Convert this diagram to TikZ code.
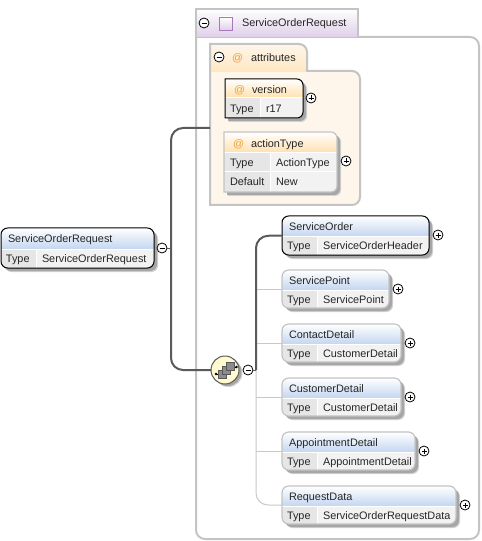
\documentclass[tikz,border=0pt]{standalone}
\usepackage{fontspec}
\setmainfont{Liberation Sans}
\usetikzlibrary{fit,calc}
\definecolor{framegray}{HTML}{C4C4C4}
\definecolor{linedark}{HTML}{5A5A5A}
\definecolor{linelight}{HTML}{C8C8C8}
\definecolor{shadowgray}{HTML}{A6A6A6}
\definecolor{shadowlight}{HTML}{D2D2D2}
\definecolor{titleblue}{HTML}{C4D6F0}
\definecolor{titleorange}{HTML}{FFE0AE}
\definecolor{cellleft}{HTML}{E6E6E6}
\definecolor{cellright}{HTML}{F2F2F2}
\definecolor{attrfill}{HTML}{FEF6EB}
\definecolor{attrtab}{HTML}{FFE7C2}
\definecolor{lilac}{HTML}{DFCFE8}
\definecolor{lilacline}{HTML}{A878B8}
\definecolor{atorange}{HTML}{F0A030}
\definecolor{seqfill}{HTML}{FFFBCF}
\tikzset{
  x=0.75pt,y=-0.75pt,
  anchorbox/.style={inner sep=0pt,outer sep=0pt},
  label/.style={inner sep=0pt,outer sep=0pt,anchor=west,text height=6pt,text depth=0pt,font=\fontsize{8.15pt}{10pt}\selectfont,text=black!85},
  atsign/.style={label,text=atorange},
  frameline/.style={draw=framegray,line width=1.5pt},
  activeline/.style={draw=black,line width=0.75pt},
  optline/.style={draw=framegray,line width=0.9pt},
  togglenode/.style={circle,draw=black,fill=white,line width=0.6pt,minimum size=7.5pt,inner sep=0pt,outer sep=0pt},
  togglemark/.style={draw=black,line width=0.5pt},
  thickconn/.style={draw=linedark,line width=1.5pt,rounded corners=9pt},
  thinconn/.style={draw=linelight,line width=0.75pt,rounded corners=9pt},
  stubconn/.style={draw=linedark,line width=0.75pt},
}
% toggles
\newcommand{\minustog}[3]{%
  \node[togglenode] (#1) at (#2,#3) {};
  \draw[togglemark] ($(#1.center)+(-2.5,0)$) -- ($(#1.center)+(2.5,0)$);}
\newcommand{\plustog}[3]{%
  \minustog{#1}{#2}{#3}
  \draw[togglemark] ($(#1.center)+(0,-2.5)$) -- ($(#1.center)+(0,2.5)$);}
\def\boxstyle{optline}
% element: all corners rounded
% name x1 y1 x2 y2 ysplit xsplit title value
\newcommand{\elembox}[9]{%
  \fill[shadowlight,rounded corners=5pt] (#2+4,#3+4) rectangle (#4+4,#5+4);
  \fill[shadowgray,rounded corners=5pt] (#2+3,#3+3) rectangle (#4+3,#5+3);
  \begin{scope}
    \clip[rounded corners=5pt] (#2,#3) rectangle (#4,#5);
    \shade[top color=white,bottom color=titleblue] (#2,#3) rectangle (#4,#6);
    \fill[cellleft] (#2,#6) rectangle (#7,#5);
    \fill[cellright] (#7,#6) rectangle (#4,#5);
    \draw[white,line width=0.75pt] (#7,#6) -- (#7,#5) (#2,#6) -- (#4,#6);
  \end{scope}
  \path (#2,#3) coordinate (#1-nw) (#4,#5) coordinate (#1-se);
  \node[anchorbox,fit=(#1-nw)(#1-se)] (#1) {};
  \draw[\boxstyle,rounded corners=5pt] (#2,#3) rectangle (#4,#5);
  \node[label] (#1-title) at (#2+7,{(#3+#6)/2}) {#8};
  \node[label] (#1-typekey) at (#2+5,{(#6+#5)/2+0.4}) {Type};
  \node[label] (#1-typeval) at (#7+6,{(#6+#5)/2+0.4}) {#9};
}
% attribute box: square left corners; x1 y1 x2 y2 ysplit xsplit title
\newcommand{\attrshape}[4]{(#1,#2) -- (#3-6,#2) to[out=0,in=90] (#3,#2+6) -- (#3,#4-6) to[out=270,in=0] (#3-6,#4) -- (#1,#4) -- cycle}
\newcommand{\attrbox}[8]{%
  \fill[shadowlight] \attrshape{#2+4}{#3+4}{#4+4}{#5+4};
  \fill[shadowgray] \attrshape{#2+3}{#3+3}{#4+3}{#5+3};
  \begin{scope}
    \clip \attrshape{#2}{#3}{#4}{#5};
    \shade[top color=white,bottom color=titleorange] (#2,#3) rectangle (#4,#6);
    \fill[cellleft] (#2,#6) rectangle (#7,#5);
    \fill[cellright] (#7,#6) rectangle (#4,#5);
    \draw[white,line width=0.75pt] (#7,#6) -- (#7,#5) (#2,#6) -- (#4,#6);
  \end{scope}
  \path (#2,#3) coordinate (#1-nw) (#4,#5) coordinate (#1-se);
  \node[anchorbox,fit=(#1-nw)(#1-se)] (#1) {};
  \draw[\boxstyle] \attrshape{#2}{#3}{#4}{#5};
  \node[atsign] (#1-at) at (#2+9,{(#3+#6)/2+0.6}) {@};
  \node[label] (#1-title) at (#2+27,{(#3+#6)/2+0.6}) {#8};
}
\begin{document}
\begin{tikzpicture}
\useasboundingbox (0,0) rectangle (481,541);
\fill[white] (0,0) rectangle (481,541);
% outer complex type frame
\draw[frameline] (196,37) -- (470,37) to[out=0,in=90] (479,46) -- (479,530) to[out=270,in=0] (470,539) -- (205,539) to[out=180,in=270] (196,530) -- cycle;
\shade[top color=white,bottom color=lilac] (196,9) rectangle (358,37);
\draw[frameline] (196,37) -- (196,9) -- (358,9) -- (358,37);
\minustog{tabtog}{204}{23}
\shade[top color=white,bottom color=lilac,draw=lilacline,line width=0.6pt] (219,17) rectangle (232,30);
\node[label] (tabtitle) at (242,23) {ServiceOrderRequest};
% attributes group
\draw[frameline,fill=attrfill] (210,71) -- (352,71) to[out=0,in=90] (360,79) -- (360,197) to[out=270,in=0] (352,205) -- (210,205) -- cycle;
\shade[top color=attrfill,bottom color=attrtab] (210,44) -- (299,44) to[out=0,in=90] (307,52) -- (307,71) -- (210,71) -- cycle;
\draw[frameline] (210,71) -- (210,44) -- (299,44) to[out=0,in=90] (307,52) -- (307,71);
\fill[attrtab] (211,69.5) rectangle (306,72);
\minustog{attrtog}{219}{57}
\node[atsign] (attrat) at (232,58) {@};
\node[label] (attrtitle) at (251,58) {attributes};
% attributes
\def\boxstyle{activeline}
\attrbox{version}{225}{79}{303}{118}{98}{260}{version}
\node[label] (version-typekey) at (230,109) {Type};
\node[label] (version-typeval) at (266,109) {r17};
\plustog{versiontog}{311}{98}
\def\boxstyle{optline}
\attrbox{action}{224}{132}{337}{192}{153}{270}{actionType}
\draw[white,line width=0.75pt] (225,172) -- (336,172);
\node[label] (action-typekey) at (230,163) {Type};
\node[label] (action-typeval) at (276,163) {ActionType};
\node[label] (action-defkey) at (230,182) {Default};
\node[label] (action-defval) at (276,182) {New};
\plustog{actiontog}{346}{161}
% root element
\def\boxstyle{activeline}
\elembox{root}{1}{228}{154}{268}{249}{36}{ServiceOrderRequest}{ServiceOrderRequest}
\minustog{roottog}{162}{248}
% sequence compositor
\coordinate (attrjoin) at (210,128);
\coordinate (trunktop) at (171,128);
\coordinate (trunkbot) at (171,370);
\coordinate (trunkroot) at (171,248);
\fill[shadowlight] (228.5,373) circle[radius=14];
\fill[shadowgray] (227.5,372) circle[radius=14];
\node[circle,draw=linedark,fill=seqfill,line width=0.75pt,minimum size=21pt,inner sep=0pt,outer sep=0pt] (seq) at (225,370) {};
\draw[thickconn] (attrjoin) -- (trunktop) -- (trunkbot) -- (seq.west);
\draw[stubconn] (roottog.east) -- (trunkroot);
% sequence icon
\draw[black,line width=0.7pt] (216,374) -- (220,374) (233,367) -- (237,367);
\fill[black] (216,374) circle[radius=1.3] (236.5,367) circle[radius=1.3];
\foreach \cx/\cy in {222.5/374.5,226.5/370.5,230.5/366.5}{
  \fill[black!45,draw=black!65,line width=0.4pt] (\cx-4,\cy-4) rectangle (\cx+4,\cy+4);
}
\minustog{seqtog}{248}{370}
\coordinate (seqjoin) at (256,370);
\coordinate (trunkup) at (256,236);
\coordinate (trunkdown) at (256,505);
% elements
\def\boxstyle{optline}
\elembox{point}{282}{270}{389}{308}{290}{317}{ServicePoint}{ServicePoint}
\elembox{contact}{282}{324}{401}{362}{344}{317}{ContactDetail}{CustomerDetail}
\elembox{customer}{282}{378}{401}{416}{398}{317}{CustomerDetail}{CustomerDetail}
\elembox{appoint}{282}{432}{415}{470}{452}{317}{AppointmentDetail}{AppointmentDetail}
\elembox{request}{282}{486}{456}{524}{506}{317}{RequestData}{ServiceOrderRequestData}
\def\boxstyle{activeline}
\elembox{order}{282}{216}{429}{255}{236}{317}{ServiceOrder}{ServiceOrderHeader}
% connectors
\draw[thinconn] (seqjoin) -- (trunkdown) -- (request.west);
\foreach \n in {point,contact,customer,appoint}{
  \draw[thinconn] (\n.west -| seqjoin) -- (\n.west);
}
\draw[thickconn] (seqjoin) -- (trunkup) -- (order.west);
\draw[stubconn] (seqtog.east) -- (seqjoin);
% toggles
\plustog{ordertog}{438}{235}
\plustog{pointtog}{398}{289}
\plustog{contacttog}{410}{343}
\plustog{customertog}{410}{397}
\plustog{appointtog}{424}{451}
\plustog{requesttog}{465}{505}
\end{tikzpicture}
\end{document}
